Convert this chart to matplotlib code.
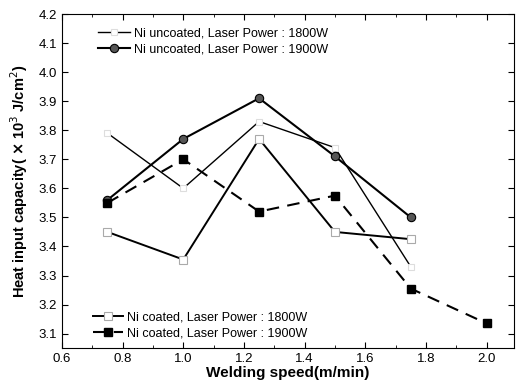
import matplotlib
matplotlib.use('Agg')
import matplotlib.pyplot as plt
from matplotlib.ticker import MultipleLocator

plt.rcParams['font.family'] = ['Liberation Sans', 'DejaVu Sans']

speed = [0.75, 1.0, 1.25, 1.5, 1.75]
speed_long = [0.75, 1.0, 1.25, 1.5, 1.75, 2.0]

uncoated_1800 = [3.79, 3.60, 3.83, 3.74, 3.33]
uncoated_1900 = [3.56, 3.77, 3.91, 3.71, 3.50]
coated_1800 = [3.45, 3.355, 3.77, 3.45, 3.425]
coated_1900 = [3.55, 3.70, 3.52, 3.575, 3.255, 3.135]

fig = plt.figure(figsize=(5.16, 3.89), dpi=100)
ax = fig.add_axes([0.120, 0.105, 0.876, 0.859])

l1, = ax.plot(speed, uncoated_1800, color='black', lw=1.0, ls='-',
              marker='s', ms=5, mfc='white', mec='#dddddd', mew=0.8,
              label='Ni uncoated, Laser Power : 1800W')
l2, = ax.plot(speed, uncoated_1900, color='black', lw=1.5, ls='-',
              marker='o', ms=6, mfc='#555555', mec='black', mew=0.8,
              label='Ni uncoated, Laser Power : 1900W')
l3, = ax.plot(speed, coated_1800, color='black', lw=1.4, ls='-',
              marker='s', ms=5.5, mfc='white', mec='#aaaaaa', mew=0.8,
              label='Ni coated, Laser Power : 1800W')
l4, = ax.plot(speed_long, coated_1900, color='black', lw=1.5, ls=(0, (6, 4)),
              marker='s', ms=6, mfc='black', mec='black',
              label='Ni coated, Laser Power : 1900W')

ax.set_xlim(0.6, 2.09)
ax.set_ylim(3.05, 4.2)
ax.xaxis.set_major_locator(MultipleLocator(0.2))
ax.xaxis.set_minor_locator(MultipleLocator(0.1))
ax.yaxis.set_major_locator(MultipleLocator(0.1))
ax.tick_params(which='both', direction='in', top=True, right=True, labelsize=9.5)
ax.tick_params(which='major', length=4)
ax.tick_params(which='minor', length=2)
ax.set_xticks([0.6, 0.8, 1.0, 1.2, 1.4, 1.6, 1.8, 2.0])
ax.set_xticklabels(['0.6', '0.8', '1.0', '1.2', '1.4', '1.6', '1.8', '2.0'])

ax.set_xlabel('Welding speed(m/min)', fontsize=11, fontweight='bold', labelpad=1)
ax.set_ylabel(r'Heat input capacity( $\mathbf{\times}$ 10$^3$ J/cm$^2$)', fontsize=10.5,
              fontweight='bold', labelpad=6)

leg1 = ax.legend(handles=[l1, l2], loc='upper left', bbox_to_anchor=(0.06, 0.985),
                 frameon=False, fontsize=9, handlelength=2.6, handletextpad=0.3,
                 labelspacing=0.3, borderpad=0.2)
ax.add_artist(leg1)
ax.legend(handles=[l3, l4], loc='lower left', bbox_to_anchor=(0.05, 0.0),
          frameon=False, fontsize=9, handlelength=2.4, handletextpad=0.3,
          labelspacing=0.3, borderpad=0.2)

fig.savefig('out.png', dpi=100)
